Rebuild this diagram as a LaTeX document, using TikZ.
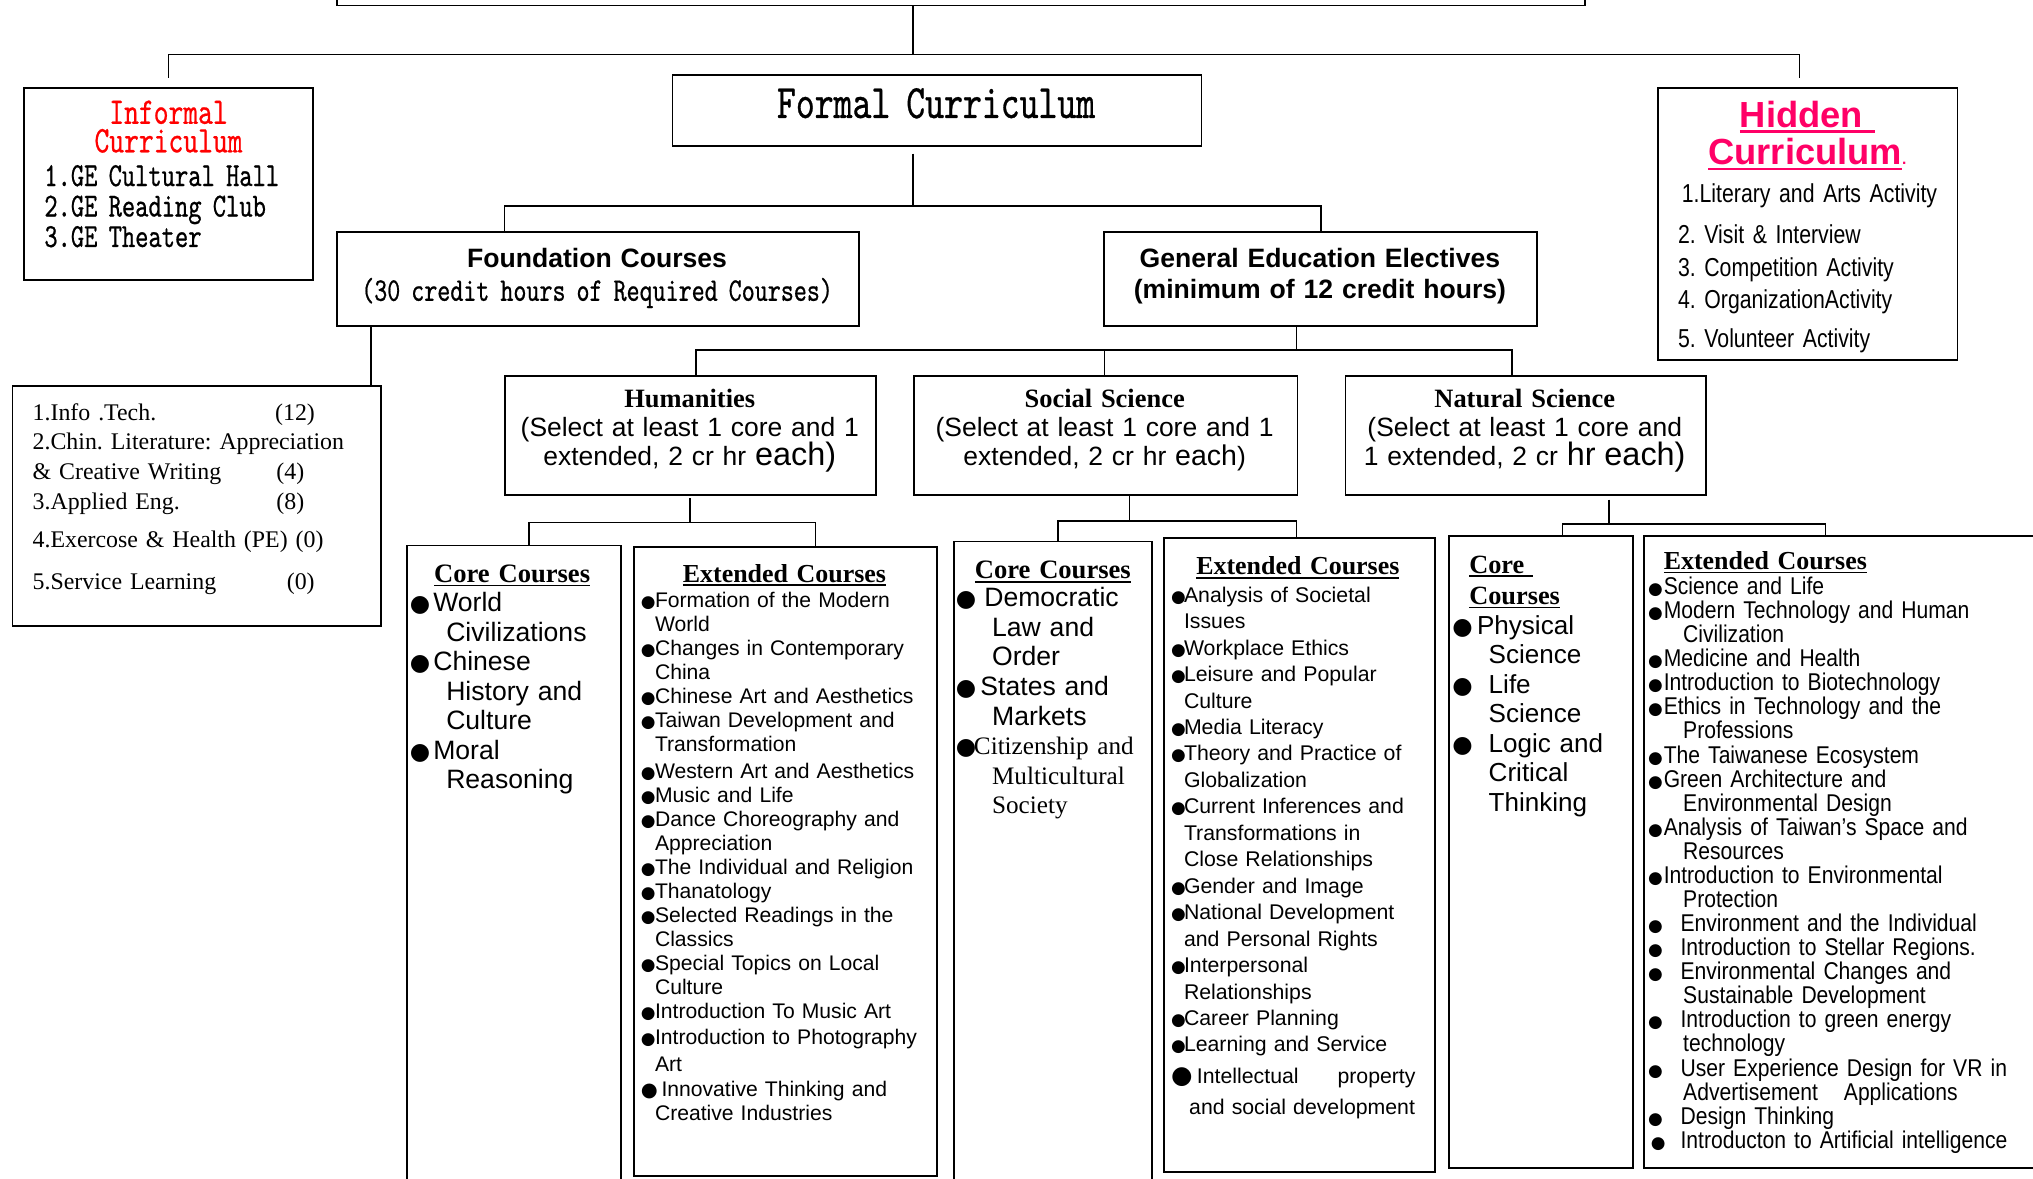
\documentclass[tikz,border=0pt]{standalone}
\usepackage{fontspec}
\setmainfont{Liberation Serif}
\setsansfont{Liberation Sans}
\newfontfamily\dotfont{DejaVu Sans}
\newfontfamily\narrowfont[FakeStretch=0.82]{Liberation Sans}
\newfontfamily\condfont[FakeStretch=0.87]{Liberation Sans}
\newfontfamily\mingfont[FakeStretch=0.75,FakeBold=0.6]{lmmono10-regular.otf}

\definecolor{informalred}{RGB}{255,0,0}
\definecolor{hiddenpink}{RGB}{255,0,102}

% size and baseline skip in one go
\newcommand\fs[2]{\fontsize{#1}{#2}\selectfont}
% round bullets, the lists set \bw, \iw and \bs themselves
\newcommand\blob[1]{{\dotfont\fontsize{#1}{#1}\selectfont ●}}
\newcommand\itm[1][\bw]{\makebox[#1][l]{\blob{\bs}}}
\newcommand\ind[1][\iw]{\hspace*{#1}}
\newcommand\undl[2][0.07em]{\leavevmode\setbox0=\hbox{#2}\rlap{\rule[-0.16em]{\wd0}{#1}}\box0}

\tikzset{
  box/.style={draw, line width=1.4pt, anchor=north west, inner sep=0pt},
  link/.style={line width=1.2pt},
  headtext/.style={anchor=base, inner sep=0pt, text width=420pt, align=center},
  listtext/.style={anchor=base west, inner sep=0pt, text width=330pt, align=left},
}

\begin{document}
\frenchspacing
\begin{tikzpicture}[x=1pt, y=-1pt]
\path[use as bounding box, fill=white] (0,0) rectangle (1568,909);

% the boxes
\node[box, anchor=south west, minimum width=963pt, minimum height=40pt] (top) at (259,5) {};
\node[box, minimum width=223pt, minimum height=148pt] (informal) at (18,67) {};
\node[box, minimum width=408pt, minimum height=55pt] (formal) at (518,57) {};
\node[box, minimum width=231pt, minimum height=210pt] (hidden) at (1278,67) {};
\node[box, minimum width=403pt, minimum height=73pt] (found) at (259,178) {};
\node[box, minimum width=334pt, minimum height=73pt] (gee) at (851,178) {};
\node[box, minimum width=284pt, minimum height=185pt] (reqlist) at (9,297) {};
\node[box, minimum width=286pt, minimum height=92pt] (hum) at (389,289) {};
\node[box, minimum width=296pt, minimum height=92pt] (soc) at (704,289) {};
\node[box, minimum width=278pt, minimum height=92pt] (nat) at (1037,289) {};
\node[box, minimum width=165pt, minimum height=510pt] (humcore) at (313,420) {};
\node[box, minimum width=234pt, minimum height=485pt] (humext) at (488,421) {};
\node[box, minimum width=153pt, minimum height=510pt] (soccore) at (735,417) {};
\node[box, minimum width=209pt, minimum height=489pt] (socext) at (897,414) {};
\node[box, minimum width=142pt, minimum height=487pt] (natcore) at (1117,413) {};
\node[box, minimum width=320pt, minimum height=487pt] (natext) at (1267,413) {};

% junctions of the tree
\coordinate (rootj) at (704,42);
\coordinate (infj) at (130,42);
\coordinate (hidj) at (1388,42);
\coordinate (formj) at (704,159);
\coordinate (foundj) at (389,159);
\coordinate (geej) at (1019,159);
\coordinate (reqj) at (286,297);
\coordinate (gebar) at (1000,270);
\coordinate (humj) at (537,270);
\coordinate (socj) at (852,270);
\coordinate (natj) at (1166,270);
\coordinate (humbar) at (532,403);
\coordinate (humcorej) at (408,403);
\coordinate (humextj) at (629,403);
\coordinate (socbar) at (871,402);
\coordinate (soccorej) at (816,402);
\coordinate (socextj) at (1000,402);
\coordinate (natbar) at (1241,404);
\coordinate (natcorej) at (1205,404);
\coordinate (natextj) at (1408,404);

% connectors
\draw[link] (top.south -| rootj) -- (rootj);
\draw[link, shorten <=7pt, shorten >=7pt] (informal.north -| infj) |- (hidj) -- (hidden.north -| hidj);
\draw[link, shorten <=5pt] (formal.south -| formj) -- (formj);
\draw[link] (found.north -| foundj) |- (geej) -- (gee.north -| geej);
\draw[link] (found.south -| reqj) -- (reqlist.north -| reqj);
\draw[link] (gee.south -| gebar) -- (gebar);
\draw[link] (hum.north -| humj) |- (natj) -- (nat.north -| natj);
\draw[link] (socj) -- (soc.north -| socj);
\draw[link, shorten <=2pt] (hum.south -| humbar) -- (humbar);
\draw[link] (humcore.north -| humcorej) |- (humextj) -- (humext.north -| humextj);
\draw[link] (soc.south -| socbar) -- (socbar);
\draw[link] (soccore.north -| soccorej) |- (socextj) -- (socext.north -| socextj);
\draw[link, shorten <=3pt] (nat.south -| natbar) -- (natbar);
\draw[link] (natcore.north -| natcorej) |- (natextj) -- (natext.north -| natextj);

% informal and hidden
\node[headtext, text=informalred, font=\mingfont\fs{29}{22}] (inftitle) at (130,95.5) {Informal\\Curriculum};
\node[listtext, font=\mingfont\fs{26}{23.5}] (inftext) at (34,143.5) {1.GE Cultural Hall\\2.GE Reading Club\\3.GE Theater};
\node[headtext, text=hiddenpink, font=\sffamily\bfseries\fs{28}{29}] (hidtitle) at (1394,98) {\undl[2.2pt]{Hidden }\\\undl[2.2pt]{Curriculum}{\fs{12}{12}.}};
\node[listtext, font=\narrowfont\fs{20}{25}] (hidtext) at (1297,156) {1.Literary and Arts Activity\\[7pt]
  \hspace*{-3pt}2. Visit \& Interview\\
  \hspace*{-3pt}3. Competition Activity\\
  \hspace*{-3pt}4. OrganizationActivity\\[5pt]
  \hspace*{-3pt}5. Volunteer Activity};

% formal curriculum
\node[headtext, font=\mingfont\fs{37}{40}] (formtext) at (722,91) {Formal Curriculum};
\node[headtext, font=\sffamily\bfseries\fs{20.5}{24}] (foundtitle) at (460.5,206) {Foundation Courses};
\node[headtext, font=\mingfont\fs{25.5}{26}] (foundsub) at (460.5,232) {(30 credit hours of Required Courses)};
\node[headtext, font=\sffamily\bfseries\fs{20.5}{24}] (geetitle) at (1018,206) {General Education Electives\\(minimum of 12 credit hours)};
\node[listtext, font=\fs{18.4}{23}] (reqtext) at (25,324) {\makebox[187pt][l]{1.Info .Tech.}(12)\\
  2.Chin. Literature: Appreciation\\
  \makebox[188pt][l]{\& Creative Writing}(4)\\
  \makebox[188pt][l]{3.Applied Eng.}(8)\\[6pt]
  4.Exercose \& Health (PE) (0)\\[10pt]
  \makebox[196pt][l]{5.Service Learning}(0)};

% the three fields
\node[headtext, font=\fs{20.4}{22.5}] (humtext) at (532,314) {\textbf{Humanities}\\{\sffamily (Select at least 1 core and 1\\extended, 2 cr hr {\fs{25}{22.5}each)}}};
\node[headtext, font=\fs{20.4}{22.5}] (soctext) at (852,314) {\textbf{Social Science}\\{\sffamily (Select at least 1 core and 1\\extended, 2 cr hr {\fs{22}{22.5}each})}};
\node[headtext, font=\fs{20.4}{22.5}] (nattext) at (1176,314) {\textbf{Natural Science}\\{\sffamily (Select at least 1 core and\\1 extended, 2 cr {\fs{25}{22.5}hr each)}}};

% humanities lists
\node[headtext, font=\bfseries\fs{20.5}{24}] (humcorehead) at (395,449) {\undl{Core Courses}};
\node[listtext, font={\sffamily\fs{20.5}{22.7}\def\bw{18pt}\def\iw{28pt}\def\bs{18}}] (humcoretext) at (316,472) {\itm World\\
  \ind Civilizations\\
  \itm Chinese\\
  \ind History and\\
  \ind Culture\\
  \itm Moral\\
  \ind Reasoning};
\node[headtext, font=\bfseries\fs{20}{24}] (humexthead) at (605,449) {\undl{Extended Courses}};
\node[listtext, font={\sffamily\fs{16.3}{18.5}\def\bw{11pt}\def\iw{11pt}\def\bs{13}}] (humexttext) at (494,468.5) {\itm Formation of the Modern\\
  \ind World\\
  \itm Changes in Contemporary\\
  \ind China\\
  \itm Chinese Art and Aesthetics\\
  \itm Taiwan Development and\\
  \ind Transformation\\[2.5pt]
  \itm Western Art and Aesthetics\\
  \itm Music and Life\\
  \itm Dance Choreography and\\
  \ind Appreciation\\
  \itm The Individual and Religion\\
  \itm Thanatology\\
  \itm Selected Readings in the\\
  \ind Classics\\
  \itm Special Topics on Local\\
  \ind Culture\\
  \itm Introduction To Music Art\\[1.5pt]
  \itm Introduction to Photography\\[2.5pt]
  \ind Art\\[0.5pt]
  \makebox[16pt][l]{\blob{15}}Innovative Thinking and\\
  \ind Creative Industries};

% social science lists
\node[headtext, font=\bfseries\fs{20.5}{24}] (soccorehead) at (812,446) {\undl{Core Courses}};
\node[listtext, font={\sffamily\fs{20.5}{22.8}\def\iw{28pt}\def\bs{18}}] (soccoretext) at (737,468) {\itm[22pt]Democratic\\
  \ind Law and\\
  \ind Order\\
  \itm[19pt]States and\\
  \ind Markets\\
  {\rmfamily\fs{19.4}{22.8}\itm[14pt]Citizenship and\\
  \ind Multicultural\\
  \ind Society}};
\node[headtext, font=\bfseries\fs{20}{24}] (socexthead) at (1001,443) {\undl{Extended Courses}};
\node[listtext, font={\sffamily\fs{16.4}{20.4}\def\bw{10pt}\def\iw{10pt}\def\bs{13}}] (socexttext) at (903,464.5) {\itm Analysis of Societal\\
  \ind Issues\\
  \itm Workplace Ethics\\
  \itm Leisure and Popular\\
  \ind Culture\\
  \itm Media Literacy\\
  \itm Theory and Practice of\\
  \ind Globalization\\
  \itm Current Inferences and\\
  \ind Transformations in\\
  \ind Close Relationships\\
  \itm Gender and Image\\
  \itm National Development\\
  \ind and Personal Rights\\
  \itm Interpersonal\\
  \ind Relationships\\
  \itm Career Planning\\
  \itm Learning and Service\\[3.6pt]
  \makebox[20pt][l]{\blob{19}}Intellectual\hspace{30pt}property\\[3.6pt]
  \ind[14pt]and social development};

% natural science lists
\node[listtext, font=\bfseries\fs{20.3}{24}] (natcorehead) at (1133,442) {\undl{Core }\\\undl{Courses}};
\node[listtext, font={\sffamily\fs{20.1}{22.8}\def\iw{28pt}\def\bs{18}}] (natcoretext) at (1120,489) {\itm[19pt]Physical\\
  \ind Science\\
  \itm[28pt]Life\\
  \ind Science\\
  \itm[28pt]Logic and\\
  \ind Critical\\
  \ind Thinking};
\node[listtext, font=\bfseries\fs{20}{24}] (natexthead) at (1283,439) {\undl{Extended Courses}};
\node[listtext, font={\condfont\fs{18.7}{18.57}\def\bw{12pt}\def\iw{27pt}\def\bs{13}}] (natexttext) at (1271,458.5) {\itm Science and Life\\
  \itm Modern Technology and Human\\
  \ind Civilization\\
  \itm Medicine and Health\\
  \itm Introduction to Biotechnology\\
  \itm Ethics in Technology and the\\
  \ind Professions\\
  \itm The Taiwanese Ecosystem\\
  \itm Green Architecture and\\
  \ind Environmental Design\\
  \itm Analysis of Taiwan’s Space and\\
  \ind Resources\\
  \itm Introduction to Environmental\\
  \ind Protection\\
  \itm[25pt]Environment and the Individual\\
  \itm[25pt]Introduction to Stellar Regions.\\
  \itm[25pt]Environmental Changes and\\
  \ind Sustainable Development\\
  \itm[25pt]Introduction to green energy\\
  \ind technology\\
  \itm[25pt]User Experience Design for VR in\\
  \ind Advertisement\hspace{20pt}Applications\\
  \itm[25pt]Design Thinking\\
  \hspace*{2pt}\itm[23pt]Introducton to Artificial intelligence};
\end{tikzpicture}
\end{document}
